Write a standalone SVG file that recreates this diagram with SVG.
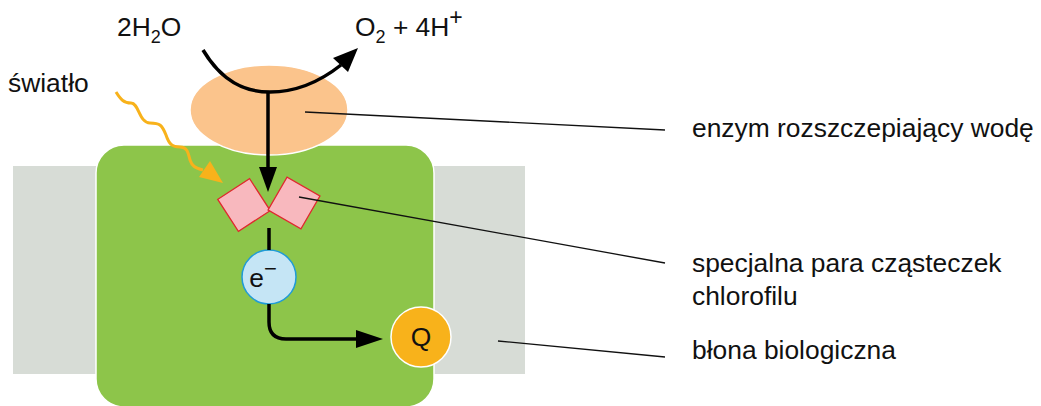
<svg xmlns="http://www.w3.org/2000/svg" width="1041" height="406" viewBox="0 0 1041 406">
<style>
text{font-family:"Liberation Sans",Arial,sans-serif;font-size:26.4px;fill:#111}
.lead{stroke:#111;stroke-width:1.3;fill:none}
.flow{stroke:#000;stroke-width:3.5;fill:none}
.head{fill:#000}
.chl{fill:#F8B8BE;stroke:#E0282E;stroke-width:1.3}
</style>
<g id="membrane"><rect x="13" y="166" width="512" height="208" fill="#D7DCD6"/></g>
<g id="photosystem"><rect x="96" y="145" width="338" height="262" rx="28" fill="#8DC54A" stroke="#fff" stroke-width="1.5"/></g>
<g id="enzyme"><ellipse cx="269" cy="110" rx="79" ry="45" fill="#FBC48C" stroke="#fff" stroke-width="1.5"/></g>
<g id="chlorophyll-pair">
<rect class="chl" x="-19" y="-19" width="38" height="38" transform="translate(244,205) rotate(-33)"/>
<rect class="chl" x="-19" y="-19" width="38" height="38" transform="translate(294,203) rotate(30)"/>
</g>
<g id="electron"><circle cx="269" cy="277" r="27" fill="#C5E5F5" stroke="#1F9BD7" stroke-width="1.5"/><text x="263" y="287" text-anchor="middle">e<tspan dy="-11" font-size="22">−</tspan></text></g>
<g id="quinone"><circle cx="421" cy="337" r="30" fill="#F8B21B" stroke="#fff" stroke-width="1.5"/><text x="421" y="346" text-anchor="middle">Q</text></g>
<g id="labels">
<text x="117" y="36">2H<tspan dy="7" font-size="18">2</tspan><tspan dy="-7">O</tspan></text>
<text x="355" y="36">O<tspan dy="7" font-size="18">2</tspan><tspan dy="-7"> + 4H</tspan><tspan dy="-11" font-size="23">+</tspan></text>
<text x="8" y="92">światło</text>
<text x="692" y="137">enzym rozszczepiający wodę</text>
<text x="692" y="272">specjalna para cząsteczek</text>
<text x="692" y="305">chlorofilu</text>
<text x="692" y="359">błona biologiczna</text>
</g>
<g id="connectors">
<path class="flow" d="M203,50 C222,82 245,92 270,92 C298,92 322,80 341,65"/>
<polygon class="head" points="358,48 348,72 333,58"/>
<path class="flow" d="M268,92 V170"/>
<polygon class="head" points="259,167 277,167 268,192"/>
<path class="flow" d="M269,228 V250"/>
<path class="flow" d="M269,304 V322 Q269,339 286,339 H358"/>
<polygon class="head" points="356,330 356,348 383,339"/>
<path d="M116,92 C121,100 124,103 131,103 C139,103 139,123 150,123 C160,123 162,125 166,135 C169,144 172,147 180,147 C187,147 188,152 190,160 C192,166 195,168 203,170" fill="none" stroke="#F8B21B" stroke-width="3"/>
<polygon points="223,183 199,177 210,161" fill="#F8B21B"/>
<path class="lead" d="M305,112 L665,130"/>
<path class="lead" d="M299,197 L665,263"/>
<path class="lead" d="M498,341 L665,357"/>
</g>
</svg>
